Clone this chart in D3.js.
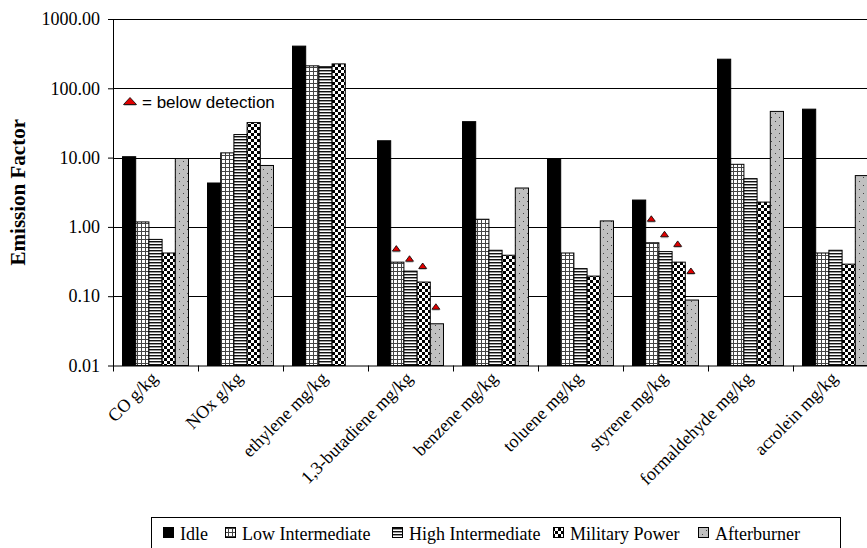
<!DOCTYPE html>
<html>
<head>
<meta charset="utf-8">
<script src="https://cdn.jsdelivr.net/npm/d3@7"></script>
<style>
  html, body { margin: 0; padding: 0; background: #fff; }
  svg { display: block; }
  .serif { font-family: "Liberation Serif", "Times New Roman", serif; }
  .sans { font-family: "Liberation Sans", Arial, sans-serif; }
</style>
</head>
<body>
<svg id="chart" width="867" height="548"></svg>
<script>
// Emission factors by engine power setting (log scale)
const categories = ["CO g/kg", "NOx g/kg", "ethylene mg/kg", "1,3-butadiene mg/kg",
  "benzene mg/kg", "toluene mg/kg", "styrene mg/kg", "formaldehyde mg/kg", "acrolein mg/kg"];
const seriesNames = ["Idle", "Low Intermediate", "High Intermediate", "Military Power", "Afterburner"];

const idle        = [10.3, 4.3, 406, 17.5, 33, 9.7, 2.44, 263, 50];
const lowInter    = [1.18, 11.7, 211, 0.31, 1.29, 0.42, 0.59, 8.0, 0.42];
const highInter   = [0.66, 21.5, 205, 0.23, 0.46, 0.25, 0.44, 4.97, 0.46];
const military    = [0.42, 32, 225, 0.16, 0.39, 0.195, 0.31, 2.28, 0.29];
const afterburner = [9.7, 7.7, null, 0.040, 3.64, 1.22, 0.088, 46.4, 5.5];

// "below detection" markers: [category index, series index, value]
const butadieneMarks = [[3, 1, 0.49], [3, 2, 0.35], [3, 3, 0.275], [3, 4, 0.071]];
const styreneMarks   = [[6, 1, 1.32], [6, 2, 0.79], [6, 3, 0.573], [6, 4, 0.233]];

const yTicks = [0.01, 0.1, 1, 10, 100, 1000];

const seriesValues = [idle, lowInter, highInter, military, afterburner];

const svg = d3.select("#chart");
const margin = { left: 113, top: 19 };
const plotW = 765, plotH = 346.5;

// fill patterns for each series
const defs = svg.append("defs");
function pattern(id, w, h, build) {
  const p = defs.append("pattern").attr("id", id).attr("patternUnits", "userSpaceOnUse")
    .attr("width", w).attr("height", h);
  build(p);
}
pattern("pLow", 4, 4, p => {
  p.append("rect").attr("width", 4).attr("height", 4).attr("fill", "#fff");
  p.append("rect").attr("x", 0).attr("y", 0).attr("width", 1).attr("height", 4).attr("fill", "#444");
  p.append("rect").attr("x", 0).attr("y", 0).attr("width", 4).attr("height", 1).attr("fill", "#444");
});
pattern("pHigh", 3, 3, p => {
  p.append("rect").attr("width", 3).attr("height", 3).attr("fill", "#fff");
  p.append("rect").attr("y", 0).attr("width", 3).attr("height", 1).attr("fill", "#111");
  p.append("rect").attr("y", 1).attr("width", 3).attr("height", 1).attr("fill", "#999");
});
pattern("pMil", 6, 6, p => {
  p.append("rect").attr("width", 6).attr("height", 6).attr("fill", "#fff");
  p.append("rect").attr("x", 0).attr("y", 0).attr("width", 3).attr("height", 3).attr("fill", "#000");
  p.append("rect").attr("x", 3).attr("y", 3).attr("width", 3).attr("height", 3).attr("fill", "#000");
});
pattern("pAB", 8, 8, p => {
  p.append("rect").attr("width", 8).attr("height", 8).attr("fill", "#c0c0c0");
  p.append("rect").attr("x", 2).attr("y", 2).attr("width", 1).attr("height", 1).attr("fill", "#444");
  p.append("rect").attr("x", 6).attr("y", 6).attr("width", 1).attr("height", 1).attr("fill", "#444");
});
const fills = ["#000", "url(#pLow)", "url(#pHigh)", "url(#pMil)", "url(#pAB)"];

const x = d3.scaleBand().domain(categories).range([0, plotW]).paddingInner(0).paddingOuter(0);
const xs = d3.scaleBand().domain(d3.range(seriesNames.length))
  .range([0, x.bandwidth()]).paddingInner(0).paddingOuter(0.72);
const y = d3.scaleLog().domain([0.01, 1000]).range([plotH, 0]);

const g = svg.append("g").attr("transform", `translate(${margin.left},${margin.top})`);

// gridlines
g.append("g").selectAll("line").data(yTicks.slice(1)).join("line")
  .attr("x1", 0).attr("x2", plotW)
  .attr("y1", d => Math.round(y(d)) + 0.5).attr("y2", d => Math.round(y(d)) + 0.5)
  .attr("stroke", "#000").attr("stroke-width", 1);

// bars
categories.forEach((c, ci) => {
  seriesValues.forEach((vals, si) => {
    const v = vals[ci];
    if (v == null) return;
    g.append("rect")
      .attr("x", x(c) + xs(si))
      .attr("y", y(v))
      .attr("width", xs.bandwidth())
      .attr("height", plotH - y(v))
      .attr("fill", fills[si])
      .attr("stroke", "#000").attr("stroke-width", 1);
  });
});

// below detection triangles
function triangle(sel, cx, cy, w, h) {
  sel.append("path")
    .attr("d", `M${cx - w / 2},${cy + h / 2 + 1.5}L${cx},${cy - h / 2 + 1.5}L${cx + w / 2},${cy + h / 2 + 1.5}Z`)
    .attr("fill", "#c8c8c8");
  sel.append("path")
    .attr("d", `M${cx - w / 2},${cy + h / 2}L${cx},${cy - h / 2}L${cx + w / 2},${cy + h / 2}Z`)
    .attr("fill", "#e00000").attr("stroke", "#000").attr("stroke-width", 0.8);
}
[...butadieneMarks, ...styreneMarks].forEach(([ci, si, v]) => {
  const cx = x(categories[ci]) + xs(si) + xs.bandwidth() / 2 - 1;
  triangle(g, cx, y(v), 8, 5.5);
});

// y axis
const yAxis = d3.axisLeft(y).tickValues(yTicks).tickFormat(d3.format(".2f"))
  .tickSize(5).tickSizeOuter(0).tickPadding(8);
const ya = g.append("g").call(yAxis).attr("font-family", null).attr("font-size", null);
ya.select(".domain").attr("stroke", "#000");
ya.selectAll(".tick line").attr("stroke", "#000");
ya.selectAll("text").attr("class", "serif").style("font-size", "18px").attr("fill", "#000");

// x axis: ticks at category boundaries
g.append("line").attr("x1", 0).attr("x2", plotW).attr("y1", plotH + 0.5).attr("y2", plotH + 0.5)
  .attr("stroke", "#000");
g.append("g").selectAll("line").data(categories).join("line")
  .attr("x1", d => Math.round(x(d)) + 0.5).attr("x2", d => Math.round(x(d)) + 0.5)
  .attr("y1", plotH).attr("y2", plotH + 6).attr("stroke", "#000");
g.append("g").selectAll("text").data(categories).join("text")
  .attr("class", "serif")
  .attr("transform", d => `translate(${x(d) + x.bandwidth() / 2 + 3},${plotH + 14}) rotate(-45)`)
  .attr("text-anchor", "end")
  .style("font-size", "18px").attr("fill", "#000")
  .text(d => d);

// y axis title
svg.append("text")
  .attr("class", "serif")
  .attr("transform", `translate(25,${margin.top + plotH / 2}) rotate(-90)`)
  .attr("text-anchor", "middle")
  .style("font-weight", "bold").style("font-size", "21px").attr("fill", "#000")
  .text("Emission Factor");

// "below detection" key
triangle(svg, 130, 101, 13, 7);
svg.append("text").attr("class", "sans").attr("x", 142).attr("y", 108)
  .style("font-size", "17px").attr("fill", "#000").text("= below detection");

// series legend
const lg = svg.append("g");
lg.append("rect").attr("x", 151.5).attr("y", 517.5).attr("width", 689).attr("height", 50)
  .attr("fill", "#fff").attr("stroke", "#000");
const markerX = [163, 225, 392, 553, 698];
seriesNames.forEach((name, i) => {
  lg.append("rect").attr("x", markerX[i] + 0.5).attr("y", 527.5).attr("width", 10).attr("height", 10)
    .attr("fill", fills[i]).attr("stroke", "#000");
  lg.append("text").attr("class", "serif").attr("x", markerX[i] + 17).attr("y", 540)
    .style("font-size", "18px").attr("fill", "#000").text(name);
});
</script>
</body>
</html>
